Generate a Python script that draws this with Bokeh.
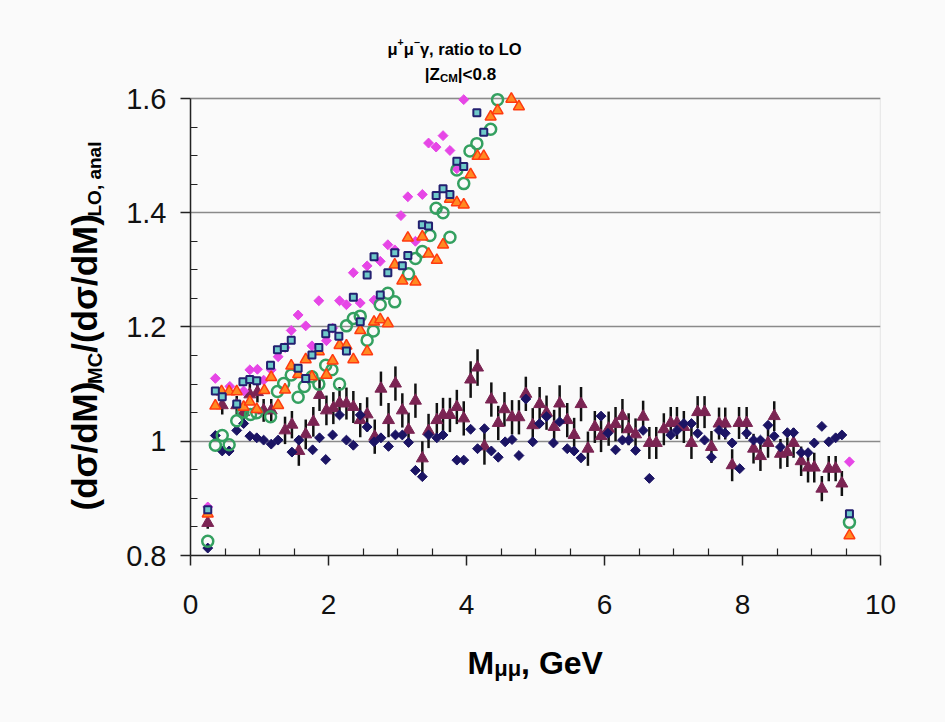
import math
from bokeh.plotting import figure
from bokeh.layouts import column, row
from bokeh.models import (ColumnDataSource, FixedTicker, CustomJSTickFormatter,
                          Label, BoxAnnotation, Range1d)
from bokeh.embed import file_html
from bokeh.resources import INLINE

# ---------------- data ----------------
nd_x = [0.25,0.36,0.46,0.56,0.67,0.77,0.86,0.96,1.06,1.17,
        1.27,1.47,1.57,1.77,1.87,1.96,2.06,2.16,2.26,2.36,
        2.46,2.56,2.66,2.76,2.87,2.97,3.07,3.16,3.26,3.36,
        3.45,3.57,3.66,3.86,3.96,4.06,4.16,4.26,4.36,4.46,
        4.56,4.66,4.76,4.86,4.96,5.06,5.16,5.26,5.35,5.46,
        5.56,5.66,5.95,6.05,6.16,6.26,6.35,6.45,6.56,6.65,
        6.96,7.05,7.15,7.26,7.35,7.45,7.55,7.66,7.75,7.85,
        7.96,8.06,8.16,8.26,8.37,8.46,8.55,8.65,8.74,8.85,
        8.95,9.04,9.15,9.25,9.35,9.44]
nd_y = [0.813,1.010,0.983,0.983,1.019,1.031,1.009,1.006,1.002,0.995,
        1.002,0.981,1.002,0.985,1.006,0.968,1.011,1.046,1.002,0.993,
        1.046,1.025,0.999,1.006,0.991,1.011,1.011,0.998,0.949,0.938,
        1.011,1.006,1.011,0.967,0.967,1.021,0.987,1.022,0.983,0.972,
        0.999,1.003,0.975,1.074,0.999,1.031,1.043,0.997,1.034,0.987,
        0.983,0.971,1.044,1.014,0.985,1.002,1.002,0.984,1.019,0.935,
        1.011,1.019,1.031,1.031,1.014,1.002,0.972,1.019,1.014,0.997,
        0.952,1.014,1.002,1.002,1.028,1.009,0.990,1.015,1.015,0.980,
        0.980,0.997,1.026,0.999,1.006,1.011]

mt_x = [0.25,0.46,0.67,0.77,0.86,0.97,1.06,1.17,1.37,1.47,
        1.57,1.67,1.78,1.87,1.97,2.07,2.16,2.26,2.36,2.46,
        2.56,2.67,2.76,2.87,2.97,3.07,3.16,3.26,3.36,3.45,
        3.57,3.66,3.76,3.86,3.96,4.06,4.16,4.26,4.36,4.46,
        4.55,4.66,4.76,4.86,4.96,5.06,5.16,5.27,5.35,5.46,
        5.56,5.66,5.76,5.86,5.95,6.06,6.16,6.26,6.35,6.45,
        6.56,6.65,6.75,6.86,6.96,7.05,7.15,7.26,7.35,7.45,
        7.55,7.66,7.75,7.85,7.95,8.06,8.16,8.26,8.37,8.46,
        8.55,8.65,8.74,8.85,8.95,9.04,9.15,9.25,9.35,9.44]
mt_y = [0.857,1.063,1.063,1.051,1.082,1.086,1.054,1.054,1.019,1.029,
        0.983,1.012,1.034,1.081,1.054,1.058,1.067,1.066,1.060,1.037,
        1.047,1.008,1.092,1.037,1.101,1.054,1.020,1.071,0.970,1.018,
        1.037,1.046,1.046,1.060,1.040,1.108,1.129,0.991,1.073,1.032,
        1.056,1.042,1.042,1.083,1.028,1.065,1.050,1.025,1.066,1.037,
        1.011,1.065,0.987,1.025,1.009,1.022,1.030,1.044,1.021,1.012,
        1.043,0.997,0.997,1.021,1.032,1.032,1.025,0.997,1.051,1.051,
        0.990,1.031,1.031,0.958,1.032,1.032,0.987,0.974,0.997,1.044,
        0.978,0.981,0.997,0.965,0.954,0.954,0.917,0.952,0.952,0.926]
mt_err = [0.010,0.016,0.016,0.018,0.018,0.018,0.020,0.020,0.024,0.024,
          0.026,0.026,0.026,0.028,0.026,0.028,0.028,0.028,0.028,0.030,
          0.030,0.030,0.030,0.030,0.030,0.030,0.030,0.030,0.030,0.030,
          0.030,0.030,0.030,0.030,0.030,0.032,0.032,0.032,0.030,0.030,
          0.030,0.030,0.030,0.030,0.030,0.030,0.030,0.030,0.032,0.030,
          0.030,0.030,0.030,0.028,0.028,0.030,0.030,0.030,0.028,0.028,
          0.028,0.028,0.028,0.028,0.028,0.028,0.028,0.028,0.028,0.028,
          0.028,0.028,0.028,0.028,0.028,0.028,0.026,0.026,0.026,0.026,
          0.026,0.026,0.026,0.026,0.026,0.026,0.022,0.022,0.022,0.022]

mg_x = [0.25,0.36,0.57,0.77,0.86,0.97,1.06,1.17,1.27,1.37,
        1.46,1.56,1.67,1.76,1.86,1.97,2.06,2.16,2.26,2.36,
        2.46,2.56,2.66,2.75,2.86,2.96,3.05,3.15,3.26,3.36,
        3.45,3.56,3.66,3.76,3.86,3.96,9.55]
mg_y = [0.885,1.110,1.096,1.088,1.125,1.126,1.107,1.125,1.148,1.164,
        1.194,1.221,1.202,1.167,1.246,1.176,1.198,1.246,1.239,1.295,
        1.242,1.307,1.247,1.315,1.344,1.335,1.395,1.428,1.350,1.432,
        1.522,1.515,1.535,1.509,1.477,1.598,0.964]

sq_x = [0.25,0.36,0.46,0.67,0.76,0.86,0.96,1.16,1.26,1.36,
        1.46,1.56,1.67,1.76,1.86,1.96,2.05,2.15,2.26,2.36,
        2.46,2.56,2.66,2.75,2.86,2.96,3.07,3.15,3.36,3.45,
        3.56,3.66,3.76,3.86,3.96,4.15,4.25,9.55]
sq_y = [0.880,1.088,1.078,1.065,1.104,1.108,1.106,1.133,1.160,1.164,
        1.177,1.128,1.110,1.151,1.164,1.188,1.198,1.184,1.158,1.252,
        1.209,1.291,1.323,1.256,1.295,1.330,1.307,1.325,1.379,1.377,
        1.430,1.442,1.432,1.490,1.481,1.575,1.541,0.873]

gc_x = [0.25,0.36,0.46,0.56,0.67,0.76,0.87,0.96,1.16,1.26,
        1.35,1.46,1.56,1.65,1.76,1.86,1.96,2.05,2.16,2.26,
        2.36,2.46,2.56,2.65,2.75,2.86,2.96,3.16,3.26,3.36,
        3.47,3.56,3.66,3.76,3.86,3.96,4.05,4.15,4.35,4.45,
        9.55]
gc_y = [0.825,0.993,1.010,0.994,1.036,1.051,1.047,1.050,1.043,1.087,
        1.101,1.116,1.077,1.096,1.113,1.100,1.133,1.125,1.100,1.202,
        1.215,1.219,1.177,1.193,1.239,1.259,1.244,1.293,1.320,1.332,
        1.360,1.408,1.400,1.357,1.475,1.451,1.508,1.521,1.546,1.598,
        0.858]

ot_x = [0.25,0.36,0.45,0.56,0.67,0.77,0.86,0.96,1.07,1.17,
        1.27,1.37,1.46,1.56,1.67,1.76,1.86,1.97,2.06,2.16,
        2.26,2.36,2.46,2.56,2.66,2.75,2.86,2.96,3.07,3.15,
        3.26,3.36,3.45,3.57,3.66,3.76,3.86,3.96,4.06,4.16,
        4.25,4.35,4.45,4.65,4.76,9.55]
ot_y = [0.873,1.062,1.087,1.087,1.087,1.060,1.069,1.056,1.089,1.112,
        1.063,1.090,1.132,1.117,1.143,1.113,1.157,1.116,1.141,1.168,
        1.167,1.143,1.194,1.157,1.209,1.213,1.206,1.309,1.281,1.356,
        1.279,1.358,1.328,1.317,1.344,1.424,1.418,1.414,1.467,1.499,
        1.499,1.568,1.579,1.599,1.586,0.835]

x_major = [0, 2, 4, 6, 8, 10]
y_major = [0.8, 1.0, 1.2, 1.4, 1.6]
y_grid = [1.0, 1.2, 1.4, 1.6]

# ---------------- layout geometry (page pixels) ----------------
W, H = 945, 722
TOP_H = 83
BOT_H = 92
LEFT_W = 110
MID_H = H - TOP_H - BOT_H
MAIN_W = W - LEFT_W
FRAME_LEFT, FRAME_RIGHT, FRAME_TOP, FRAME_BOTTOM = 190, 880, 88, 555
Y_TOP = 1.6175   # a little head-room above 1.6 so markers there are not cut

BG = "#fafafa"
FONT = "Liberation Sans"


def text_canvas(w, h, x0, x1, y0, y1):
    f = figure(width=w, height=h, x_range=Range1d(x0, x1), y_range=Range1d(y0, y1),
               output_backend="svg", toolbar_location=None,
               x_axis_location=None, y_axis_location=None,
               min_border=0, min_border_left=0, min_border_right=0,
               min_border_top=0, min_border_bottom=0,
               background_fill_color=BG, border_fill_color=BG,
               outline_line_color=None)
    f.grid.visible = False
    return f


def lab(f, text, px, py, size, bold=True, angle=0.0, baseline="alphabetic"):
    f.add_layout(Label(x=px, y=py, text=text, text_font=FONT,
                       text_font_size=f"{size}px",
                       text_font_style="bold" if bold else "normal",
                       angle=angle, text_align="left",
                       text_baseline=baseline, text_color="#000000"))


# title strip (data units = page pixels, y from the top)
ft = text_canvas(W, TOP_H, 0, W, TOP_H, 0)
lab(ft, "\u03bc", 387, 48, 16.5)
lab(ft, "+", 397.1, 41, 10.5)
lab(ft, "\u03bc", 403.2, 48, 16.5)
lab(ft, "\u2212", 413.3, 41, 10.5)
lab(ft, "\u03b3, ratio to LO", 419.4, 48, 16.5)
lab(ft, "|Z", 424.3, 74, 17)
lab(ft, "CM", 439.4, 77, 11.5)
lab(ft, "|<0.8", 457.3, 74, 17)

# y-label strip: in a row its frame is aligned with the main plot frame
fl = text_canvas(LEFT_W, MID_H, 0, LEFT_W, FRAME_BOTTOM, FRAME_TOP)
A = math.pi / 2
lab(fl, "(d\u03c3/dM)", 84, 510, 35, angle=A, baseline="middle")
lab(fl, "MC", 94, 383.4, 20, angle=A, baseline="middle")
lab(fl, "/(d\u03c3/dM)", 84, 352.3, 35, angle=A, baseline="middle")
lab(fl, "LO, anal", 94, 216, 19, angle=A, baseline="middle")

# x-label strip
fb = text_canvas(W, BOT_H, 0, W, H, TOP_H + MID_H)
lab(fb, "M", 467, 662, 32)
lab(fb, "\u03bc\u03bc", 493.7, 668, 22)
lab(fb, ", GeV", 520.6, 662, 32)

# ---------------- main plot ----------------
p = figure(width=MAIN_W, height=MID_H,
           x_range=Range1d(0, 10), y_range=Range1d(0.8, Y_TOP),
           output_backend="svg", toolbar_location=None,
           min_border_left=FRAME_LEFT - LEFT_W,
           min_border_right=W - FRAME_RIGHT,
           min_border_top=FRAME_TOP - TOP_H,
           min_border_bottom=TOP_H + MID_H - FRAME_BOTTOM,
           background_fill_color=BG, border_fill_color=BG,
           outline_line_color=None)

xa = p.xaxis[0]
xa.ticker = FixedTicker(ticks=x_major,
                        minor_ticks=[v * 0.5 for v in range(1, 20) if v % 4 != 0])
xa.axis_line_color = "#222222"
xa.axis_line_width = 1.5
xa.major_tick_line_color = "#222222"
xa.major_tick_line_width = 1.5
xa.major_tick_out = 10
xa.major_tick_in = 0
xa.minor_tick_line_color = "#222222"
xa.minor_tick_line_width = 1.2
xa.minor_tick_in = 7
xa.minor_tick_out = 0
xa.major_label_text_font = FONT
xa.major_label_text_font_size = "28px"
xa.major_label_text_color = "#111111"
xa.major_label_standoff = 29

ya = p.yaxis[0]
ya.ticker = FixedTicker(ticks=y_major,
                        minor_ticks=[0.8 + 0.05 * k for k in range(1, 16) if k % 4 != 0])
ya.formatter = CustomJSTickFormatter(code="return String(Math.round(tick*10)/10);")
ya.bounds = (0.8, 1.6)
ya.axis_line_color = "#222222"
ya.axis_line_width = 1.5
ya.major_tick_line_color = "#222222"
ya.major_tick_line_width = 1.5
ya.major_tick_out = 10
ya.major_tick_in = 0
ya.minor_tick_line_color = "#222222"
ya.minor_tick_line_width = 1.2
ya.minor_tick_in = 7
ya.minor_tick_out = 0
ya.major_label_text_font = FONT
ya.major_label_text_font_size = "29px"
ya.major_label_text_color = "#111111"
ya.major_label_standoff = 14

p.xgrid.visible = False
p.ygrid.ticker = FixedTicker(ticks=y_grid)
p.ygrid.grid_line_color = "#8a8a8a"
p.ygrid.grid_line_width = 1.3

p.add_layout(BoxAnnotation(left=0, right=10, bottom=0.8, top=1.6,
                           fill_color=None, fill_alpha=0,
                           line_color="#8a8a8a", line_width=1.3, level="underlay"))

err_src = ColumnDataSource(dict(x=mt_x, y=mt_y,
                                lo=[v - e for v, e in zip(mt_y, mt_err)],
                                hi=[v + e for v, e in zip(mt_y, mt_err)]))
p.segment(x0="x", y0="lo", x1="x", y1="hi", source=err_src,
          line_color="#111111", line_width=2.5)
p.scatter("x", "y", source=err_src, marker="triangle", size=12,
          fill_color="#7b2453", line_color="#7b2453", line_width=1)

p.scatter(nd_x, nd_y, marker="square", angle=math.pi / 4, size=7,
          fill_color="#1b1464", line_color="#1b1464", line_width=1)

p.scatter(mg_x, mg_y, marker="square", angle=math.pi / 4, size=7,
          fill_color="#e646e6", line_color="#e646e6", line_width=1)

p.scatter(gc_x, gc_y, marker="circle", size=11, fill_color=None,
          line_color="#34a060", line_width=2.5)

p.scatter(ot_x, ot_y, marker="triangle", size=11, fill_color="#ff8a22",
          line_color="#ff3a10", line_width=1.5)

p.scatter(sq_x, sq_y, marker="square", size=7, fill_color="#6fcaca",
          line_color="#232070", line_width=2)

page = column(ft, row(fl, p, spacing=0), fb, spacing=0, styles={"background-color": BG})
open("out.html", "w").write(file_html(page, INLINE))
